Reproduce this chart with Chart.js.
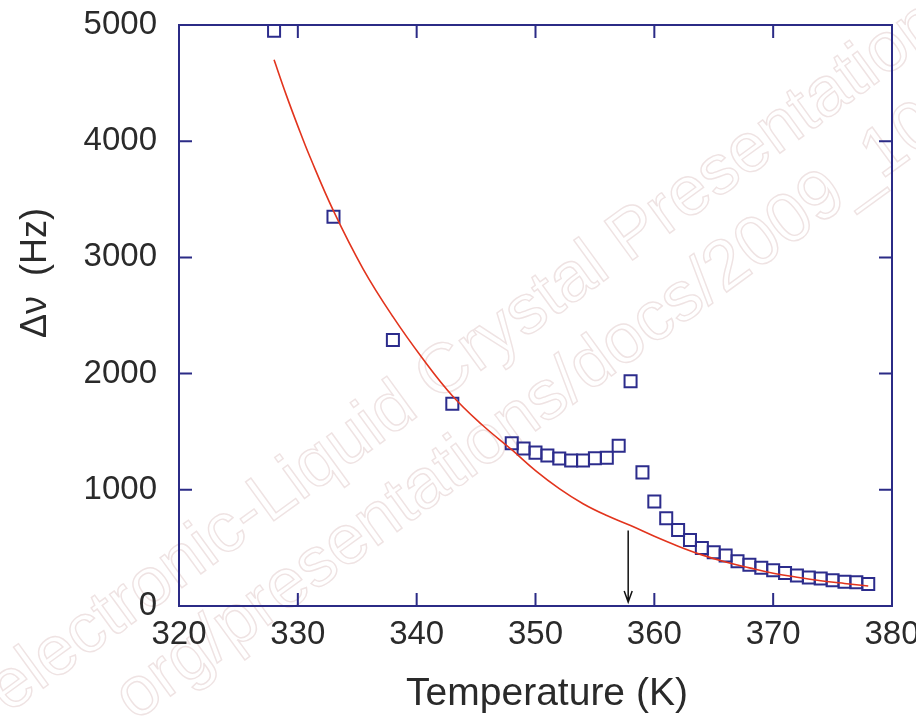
<!DOCTYPE html>
<html>
<head>
<meta charset="utf-8">
<script src="https://cdn.jsdelivr.net/npm/chart.js@4"></script>
<style>
  body { margin: 0; background: #fff; }
  #wrap { width: 916px; height: 718px; }
</style>
</head>
<body>
<div id="wrap"><canvas id="chart" width="916" height="718"></canvas></div>
<script>
// measured points
const tempK = [328, 333, 338, 343, 348, 349, 350, 351, 352, 353, 354, 355, 356, 357, 358,
  359, 360, 361, 362, 363, 364, 365, 366, 367, 368, 369, 370, 371, 372, 373, 374, 375, 376, 377, 378];
const deltaNu = [4950, 3350, 2290, 1740, 1400, 1355, 1320, 1295, 1270, 1252, 1252, 1272, 1275, 1380, 1935,
  1150, 900, 755, 655, 568, 500, 462, 435, 385, 355, 330, 308, 284, 262, 246, 236, 222, 209, 204, 189];

// fitted curve (red)
const fitT = [328, 329, 330, 331, 333, 335.5, 338, 340.5, 343, 345.5, 348, 350, 352, 354, 356, 358,
  360, 362, 364, 366, 368, 370, 372, 374, 376, 378];
const fitNu = [4700, 4405, 4130, 3870, 3400, 2900, 2490, 2130, 1810, 1560, 1345, 1165, 1010, 880, 778, 692,
  600, 515, 440, 378, 328, 282, 248, 218, 194, 172];

// transition marker
const arrowT = 357.8;
const arrowTop = 650;

const xTicks = [320, 330, 340, 350, 360, 370, 380];
const yTicks = [0, 1000, 2000, 3000, 4000, 5000];

const axisColor = "#2b2b86";
const textColor = "#2a2a2a";
const tickFont = { family: "Liberation Sans", size: 33 };

function watermark(c, text, x, y) {
  c.save();
  c.strokeStyle = "#efe3e3";
  c.lineWidth = 1.4;
  c.font = '70px "Liberation Sans"';
  c.translate(x, y);
  c.rotate(-36 * Math.PI / 180);
  c.strokeText(text, 0, 0);
  c.restore();
}

const framePlugin = {
  id: "frame",
  beforeDraw(chart) {
    watermark(chart.ctx, "electronic-Liquid Crystal Presentations", 8, 714);
    watermark(chart.ctx, "org/presentations/docs/2009_10", 135, 722);
  },
  beforeDatasetsDraw(chart) {
    const { ctx, chartArea: a, scales } = chart;
    ctx.save();
    ctx.strokeStyle = axisColor;
    ctx.lineWidth = 2;
    ctx.strokeRect(a.left, a.top, a.right - a.left, a.bottom - a.top);
    const len = 13;
    ctx.beginPath();
    xTicks.forEach(v => {
      const px = scales.x.getPixelForValue(v);
      ctx.moveTo(px, a.bottom); ctx.lineTo(px, a.bottom - len);
      ctx.moveTo(px, a.top); ctx.lineTo(px, a.top + len);
    });
    yTicks.forEach(v => {
      const py = scales.y.getPixelForValue(v);
      ctx.moveTo(a.left, py); ctx.lineTo(a.left + len, py);
      ctx.moveTo(a.right, py); ctx.lineTo(a.right - len, py);
    });
    ctx.stroke();
    ctx.restore();
  },
  afterDatasetsDraw(chart) {
    const { ctx, scales } = chart;
    const px = scales.x.getPixelForValue(arrowT);
    const y0 = scales.y.getPixelForValue(arrowTop);
    const y1 = scales.y.getPixelForValue(0) - 4;
    ctx.save();
    ctx.strokeStyle = "#111";
    ctx.lineWidth = 1.5;
    ctx.beginPath();
    ctx.moveTo(px, y0); ctx.lineTo(px, y1);
    ctx.moveTo(px - 4, y1 - 11); ctx.lineTo(px, y1); ctx.lineTo(px + 4, y1 - 11);
    ctx.stroke();
    // axis titles
    ctx.fillStyle = textColor;
    ctx.textAlign = "center";
    ctx.textBaseline = "middle";
    ctx.font = '39px "Liberation Sans"';
    ctx.fillText("Temperature (K)", 547, 694);
    ctx.font = '36px "Liberation Sans"';
    ctx.translate(36, 273);
    ctx.rotate(-Math.PI / 2);
    ctx.fillText("\u0394\u03bd  (Hz)", 0, 0);
    ctx.restore();
  }
};

new Chart(document.getElementById("chart"), {
  type: "scatter",
  data: {
    datasets: [
      {
        type: "line",
        label: "fit",
        data: fitT.map((t, i) => ({ x: t, y: fitNu[i] })),
        borderColor: "#e2341d",
        borderWidth: 1.6,
        pointRadius: 0,
        tension: 0.4,
        fill: false,
        order: 0
      },
      {
        label: "data",
        data: tempK.map((t, i) => ({ x: t, y: deltaNu[i] })),
        pointStyle: "rect",
        pointRadius: 8.5,
        borderColor: "#2c2c8c",
        borderWidth: 2,
        backgroundColor: "rgba(0,0,0,0)",
        order: 1
      }
    ]
  },
  options: {
    responsive: false,
    animation: false,
    layout: { padding: { top: 25, right: 24, left: 0, bottom: 0 } },
    plugins: { legend: { display: false }, tooltip: { enabled: false } },
    scales: {
      x: {
        type: "linear",
        min: 320,
        max: 380,
        afterBuildTicks: s => { s.ticks = xTicks.map(v => ({ value: v })); },
        afterFit: s => { s.height = 112; s.paddingLeft = 0; s.paddingRight = 0; },
        grid: { display: false, drawTicks: false },
        border: { display: false },
        ticks: { font: tickFont, color: textColor, padding: 9, maxRotation: 0, autoSkip: false, callback: v => String(v) }
      },
      y: {
        min: 0,
        max: 5000,
        afterBuildTicks: s => { s.ticks = yTicks.map(v => ({ value: v })); },
        afterFit: s => { s.width = 179; s.paddingTop = 0; s.paddingBottom = 0; },
        grid: { display: false, drawTicks: false },
        border: { display: false },
        ticks: { font: tickFont, color: textColor, padding: 22, callback: v => String(v) }
      }
    }
  },
  plugins: [framePlugin]
});
</script>
</body>
</html>
